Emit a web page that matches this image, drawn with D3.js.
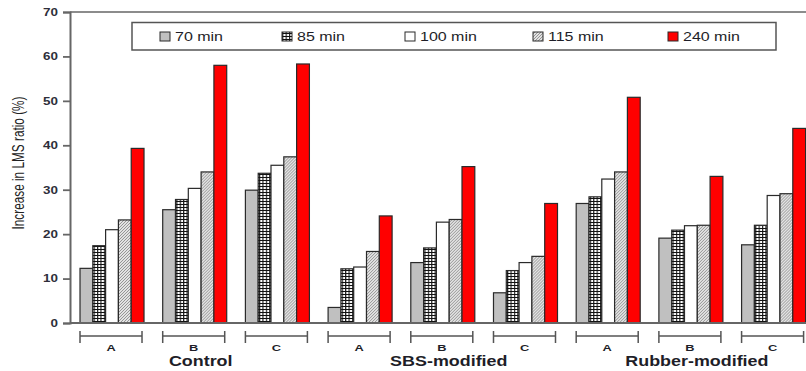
<!DOCTYPE html>
<html>
<head>
<meta charset="utf-8">
<script src="https://cdn.jsdelivr.net/npm/d3@7"></script>
<style>
  html, body { margin: 0; padding: 0; background: #fff; }
  svg { display: block; font-family: Arial, "Liberation Sans", sans-serif; }
</style>
</head>
<body>
<svg id="chart" width="806" height="371"></svg>
<script>
// series / categories
var series = ['70 min', '85 min', '100 min', '115 min', '240 min'];
var mixes = ['Control', 'SBS-modified', 'Rubber-modified'];
var samples = ['A', 'B', 'C'];
var v70  = [12.3, 25.5, 29.9,  3.5, 13.6,  6.8, 26.9, 19.1, 17.6];
var v85  = [17.4, 27.8, 33.7, 12.2, 16.9, 11.8, 28.4, 20.9, 22.0];
var v100 = [21.0, 30.3, 35.5, 12.6, 22.7, 13.6, 32.4, 21.9, 28.7];
var v115 = [23.2, 34.0, 37.4, 16.1, 23.3, 15.0, 34.0, 22.0, 29.1];
var v240 = [39.3, 58.0, 58.3, 24.1, 35.2, 26.9, 50.8, 33.0, 43.8];
var yTicks = [0, 10, 20, 30, 40, 50, 60, 70];

var values = [v70, v85, v100, v115, v240];
var SX = 1.28; // picture is stretched sideways, so is the text

var groups = [];
mixes.forEach(function (m) {
  samples.forEach(function (s) { groups.push(m + '|' + s); });
});

var svg = d3.select('#chart');

// patterns
var defs = svg.append('defs');
var cross = defs.append('pattern').attr('id', 'cross')
    .attr('patternUnits', 'userSpaceOnUse').attr('width', 3.4).attr('height', 3);
cross.append('rect').attr('width', 3.4).attr('height', 3).attr('fill', '#fff');
cross.append('path').attr('d', 'M0,0.5H3.4M0.6,0V3')
    .attr('stroke', '#111').attr('stroke-width', 1.1);

var diag = defs.append('pattern').attr('id', 'diag')
    .attr('patternUnits', 'userSpaceOnUse').attr('width', 3).attr('height', 3);
diag.append('rect').attr('width', 3).attr('height', 3).attr('fill', '#e2e2e2');
diag.append('path').attr('d', 'M-1,1L1,-1M0,3L3,0M2,4L4,2')
    .attr('stroke', '#8c8c8c').attr('stroke-width', 0.9);

var fills = ['#c0c0c0', 'url(#cross)', '#ffffff', 'url(#diag)', '#ff0000'];

var x0 = d3.scaleBand().domain(groups).range([70, 815.6])
    .paddingInner(0.226).paddingOuter(0.121);
var x1 = d3.scaleBand().domain(series).range([0, x0.bandwidth()]);
var y = d3.scaleLinear().domain([0, 70]).range([323, 12]);

// bars
var gBars = svg.append('g');
groups.forEach(function (g, gi) {
  var gg = gBars.append('g').attr('transform', 'translate(' + x0(g) + ',0)');
  gg.selectAll('rect')
    .data(series.map(function (s, si) { return { s: s, i: si, v: values[si][gi] }; }))
    .enter().append('rect')
      .attr('x', function (d) { return x1(d.s); })
      .attr('y', function (d) { return y(d.v); })
      .attr('width', x1.bandwidth())
      .attr('height', function (d) { return y(0) - y(d.v); })
      .attr('fill', function (d) { return fills[d.i]; })
      .attr('stroke', '#2a2a2a')
      .attr('stroke-width', 1.2);
});

// frame lines
svg.append('line').attr('x1', 70).attr('x2', 806).attr('y1', y(70)).attr('y2', y(70))
  .attr('stroke', '#666').attr('stroke-width', 1.5);
svg.append('line').attr('x1', 70).attr('x2', 806).attr('y1', y(0)).attr('y2', y(0))
  .attr('stroke', '#666').attr('stroke-width', 1.8);

// y axis
var yAxis = svg.append('g').attr('transform', 'translate(70,0)')
  .call(d3.axisLeft(y).tickValues(yTicks).tickSize(7).tickPadding(0));
yAxis.select('.domain').attr('stroke', '#666').attr('stroke-width', 2);
yAxis.selectAll('.tick line').attr('stroke', '#666').attr('stroke-width', 1.8);
yAxis.selectAll('.tick text')
  .attr('x', -12 / SX)
  .attr('transform', 'scale(' + SX + ',1)')
  .attr('font-size', 10.5).attr('font-weight', 'bold')
  .attr('font-family', 'Arial, "Liberation Sans", sans-serif')
  .attr('fill', '#2e2e3a');

function stretched(parent, x, yy, str, size, weight, anchor, sx) {
  return parent.append('g')
    .attr('transform', 'translate(' + x + ',' + yy + ') scale(' + (sx || SX) + ',1)')
    .append('text')
      .attr('text-anchor', anchor || 'middle')
      .attr('font-size', size)
      .attr('font-weight', weight || 'normal')
      .attr('fill', '#1e1e28')
      .text(str);
}

// y label
svg.append('text')
  .attr('transform', 'translate(24,163) rotate(-90)')
  .attr('text-anchor', 'middle')
  .attr('font-size', 16)
  .attr('textLength', 133).attr('lengthAdjust', 'spacingAndGlyphs')
  .attr('fill', '#222')
  .text('Increase in LMS ratio (%)');

// brackets + sample letters
var gx = svg.append('g');
groups.forEach(function (g) {
  var a = x0(g), b = x0(g) + x0.bandwidth() - 2;
  gx.append('path')
    .attr('d', 'M' + a + ',331V343M' + a + ',336H' + b + 'M' + b + ',331V343')
    .attr('stroke', '#555').attr('stroke-width', 1.5).attr('fill', 'none');
  stretched(gx, (a + b) / 2, 350.5, g.split('|')[1], 9.5, 'bold', 'middle', 1.35);
});

// mix labels, centred under sample B
mixes.forEach(function (m) {
  var g = m + '|B';
  stretched(svg, x0(g) + x0.bandwidth() / 2 + 6, 366, m, 14, 'bold');
});

// legend
var leg = svg.append('g');
leg.append('rect').attr('x', 132).attr('y', 22.5).attr('width', 644).attr('height', 27.5)
  .attr('fill', '#fff').attr('stroke', '#555').attr('stroke-width', 1.5);
var legX = [160, 282, 405, 533, 668];
series.forEach(function (s, i) {
  leg.append('rect').attr('x', legX[i]).attr('y', 32).attr('width', 10).attr('height', 9)
    .attr('fill', fills[i]).attr('stroke', '#2a2a2a').attr('stroke-width', 1);
  stretched(leg, legX[i] + 15, 41, s, 12.5, 'normal', 'start');
});
</script>
</body>
</html>
